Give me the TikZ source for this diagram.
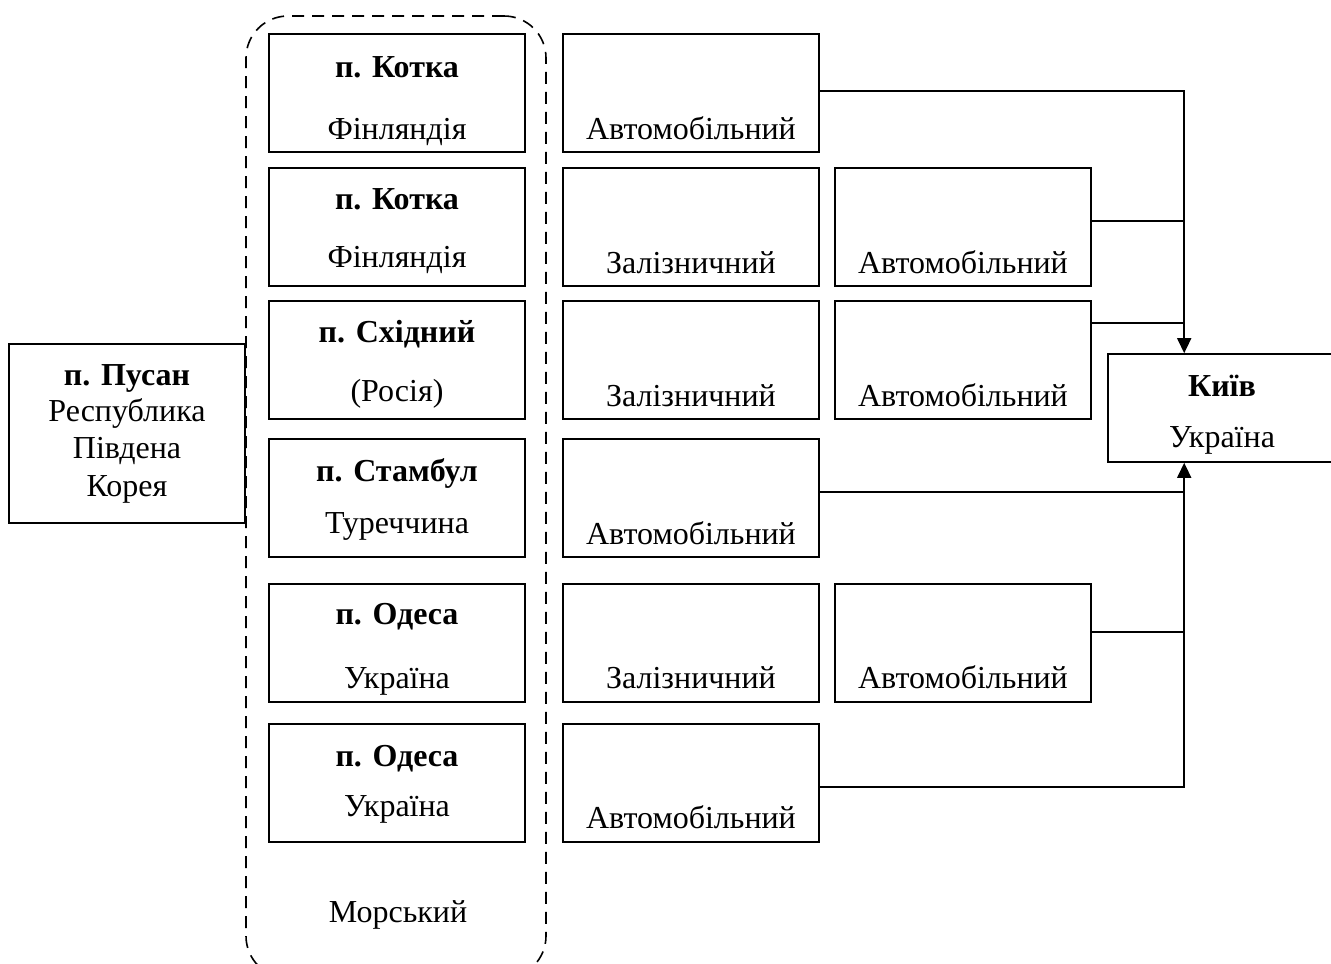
\documentclass[tikz,border=0pt]{standalone}
\usepackage{fontspec}
\setmainfont{Liberation Serif}
\usetikzlibrary{arrows.meta}
\begin{document}
\begin{tikzpicture}[x=1pt,y=-1pt,
  box/.style={draw,line width=1.6pt,minimum width=256pt,minimum height=118pt,inner sep=0pt},
  txt/.style={font=\fontsize{32}{36}\selectfont,inner sep=0pt,anchor=base},
  btxt/.style={txt,font=\fontsize{32}{36}\selectfont\bfseries},
  conn/.style={line width=1.6pt},
  arr/.style={line width=1.6pt,-{Triangle[length=15pt,width=14pt]}}]
\useasboundingbox (0,0) rectangle (1331,964);
\begin{scope}
\clip (0,0) rectangle (1331,964);
% container
\node[draw,line width=1.6pt,dash pattern=on 12pt off 8pt,rounded corners=42pt,minimum width=300pt,minimum height=962pt,inner sep=0pt] (sea) at (396,497) {};
% Pusan
\node[draw,line width=1.6pt,minimum width=236pt,minimum height=179pt,inner sep=0pt] (pus) at (127,433.5) {};
% Kyiv
\node[draw,line width=1.6pt,minimum width=232pt,minimum height=108pt,inner sep=0pt] (k) at (1224,408) {};
\end{scope}
\node[btxt] (pus1) at (127,385) {п. Пусан};
\node[txt] (pus2) at (127,421) {Республика};
\node[txt] (pus3) at (127,458) {Південа};
\node[txt] (pus4) at (127,496) {Корея};
\node[btxt] (k1) at (1222,396) {Київ};
\node[txt] (k2) at (1222,447) {Україна};
% left column
\node[box] (l1) at (397,93) {};
\node[box] (l2) at (397,227) {};
\node[box] (l3) at (397,360) {};
\node[box] (l4) at (397,498) {};
\node[box] (l5) at (397,643) {};
\node[box] (l6) at (397,783) {};
% middle column
\node[box] (m1) at (691,93) {};
\node[box] (m2) at (691,227) {};
\node[box] (m3) at (691,360) {};
\node[box] (m4) at (691,498) {};
\node[box] (m5) at (691,643) {};
\node[box] (m6) at (691,783) {};
% right column
\node[box] (r2) at (963,227) {};
\node[box] (r3) at (963,360) {};
\node[box] (r5) at (963,643) {};
% texts
\node[btxt] (t11) at (397,77) {п. Котка};
\node[txt] (t12) at (397,139) {Фінляндія};
\node[btxt] (t21) at (397,209) {п. Котка};
\node[txt] (t22) at (397,267) {Фінляндія};
\node[btxt] (t31) at (397,342) {п. Східний};
\node[txt] (t32) at (397,401) {(Росія)};
\node[btxt] (t41) at (397,481) {п. Стамбул};
\node[txt] (t42) at (397,533) {Туреччина};
\node[btxt] (t51) at (397,624) {п. Одеса};
\node[txt] (t52) at (397,688) {Україна};
\node[btxt] (t61) at (397,766) {п. Одеса};
\node[txt] (t62) at (397,816) {Україна};
\node[txt] (sea1) at (398,922) {Морський};
\node[txt] (mt1) at (691,139) {Автомобільний};
\node[txt] (mt2) at (691,273) {Залізничний};
\node[txt] (mt3) at (691,406) {Залізничний};
\node[txt] (mt4) at (691,544) {Автомобільний};
\node[txt] (mt5) at (691,688) {Залізничний};
\node[txt] (mt6) at (691,828) {Автомобільний};
\node[txt] (rt2) at (963,273) {Автомобільний};
\node[txt] (rt3) at (963,406) {Автомобільний};
\node[txt] (rt5) at (963,688) {Автомобільний};
% connectors
\coordinate (ktop) at ([xshift=77pt]k.north west);
\coordinate (kbot) at ([xshift=77pt]k.south west);
\coordinate (e1) at ([yshift=2pt]m1.east);
\coordinate (e2) at ([yshift=6pt]r2.east);
\coordinate (e3) at ([yshift=37pt]r3.east);
\coordinate (e4) at ([yshift=6pt]m4.east);
\coordinate (e5) at ([yshift=11pt]r5.east);
\coordinate (e6) at ([yshift=-4pt]m6.east);
\draw[arr] (e1) -| (ktop);
\draw[conn] (e2) -- (e2 -| ktop);
\draw[conn] (e3) -- (e3 -| ktop);
\draw[arr] (e6) -| (kbot);
\draw[conn] (e4) -- (e4 -| kbot);
\draw[conn] (e5) -- (e5 -| kbot);
\end{tikzpicture}
\end{document}
